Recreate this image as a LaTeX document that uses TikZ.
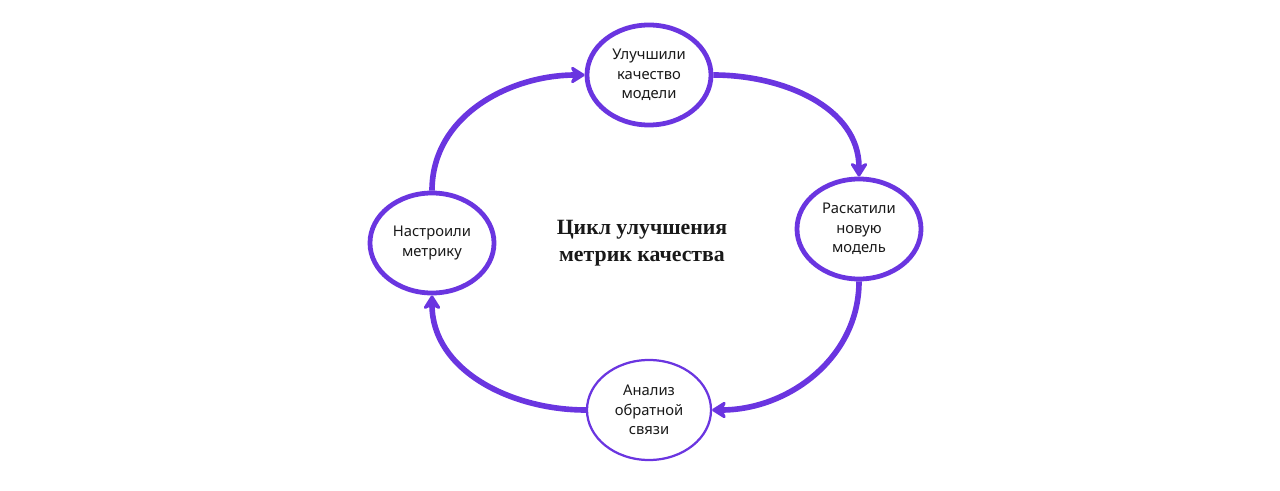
\documentclass[tikz,border=0pt]{standalone}
\usepackage{fontspec}
\setmainfont{Noto Sans}
\newfontfamily\titlefont{Liberation Serif}
\usetikzlibrary{arrows.meta,shapes.geometric}
\definecolor{violet}{HTML}{6A35E0}
\tikzset{
  stage/.style={draw=violet, ellipse, line width=3.4pt, minimum width=3.1cm,
    minimum height=2.5cm, inner sep=0pt, align=center,
    font=\fontsize{10.5}{14}\selectfont\bfseries, text=black!90},
  loop/.style={draw=violet, line width=4pt, -{Stealth[length=12pt,width=15pt,round]}}
}
\begin{document}
\begin{tikzpicture}[x=0.025cm,y=-0.025cm]
  \useasboundingbox (0,0) rectangle (1280,491);
  \node[stage] (nt) at (649,75) {Улучшили\\качество\\модели};
  \node[stage] (nr) at (859,229) {Раскатили\\новую\\модель};
  \node[stage, line width=1.6pt] (nb) at (649,410) {Анализ\\обратной\\связи};
  \node[stage] (nl) at (432,243) {Настроили\\метрику};
  \node[align=center, font=\titlefont\fontsize{15.5}{19}\selectfont\bfseries,
    text=black!90] (title) at (642,243) {Цикл улучшения\\метрик качества};
  \draw[loop] (nl.north) to[out=90,in=180] (nt.west);
  \draw[loop] (nt.east) to[out=0,in=90] (nr.north);
  \draw[loop] (nr.south) to[out=-90,in=0] (nb.east);
  \draw[loop] (nb.west) to[out=180,in=-90] (nl.south);
\end{tikzpicture}
\end{document}
